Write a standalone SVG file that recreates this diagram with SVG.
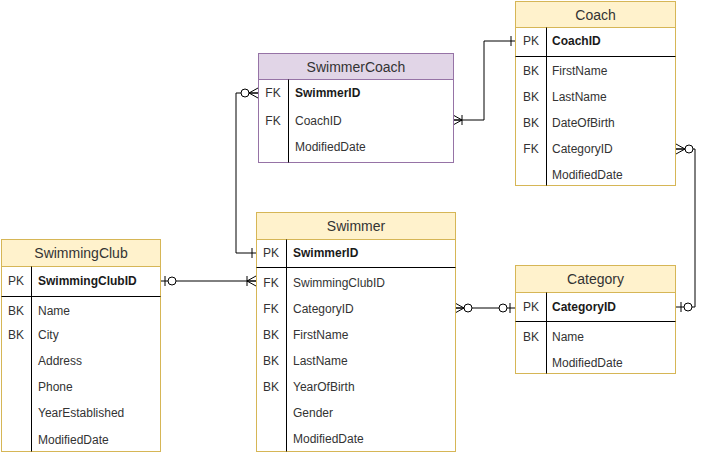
<svg xmlns="http://www.w3.org/2000/svg" width="705" height="455" viewBox="0 0 705 455">
<style>
.yb{fill:#ffffff;stroke:#d6b656;stroke-width:1}
.yh{fill:#fff2cc;stroke:#d6b656;stroke-width:1}
.pb{fill:#ffffff;stroke:#9673a6;stroke-width:1}
.ph{fill:#e1d5e7;stroke:#9673a6;stroke-width:1}
.div{stroke:#000;stroke-width:1;fill:none}
.sep{stroke:#000;stroke-width:1;fill:none}
text{font-family:"Liberation Sans",Arial,sans-serif;fill:#333333}
.t{font-size:14px;text-anchor:middle}
.f{font-size:12px}
.k{font-size:12px;text-anchor:middle}
.b{font-weight:bold;fill:#1a1a1a}
.conn{fill:none;stroke:#000;stroke-width:1}
</style>
<defs>
<marker id="zeroMany" markerUnits="userSpaceOnUse" markerWidth="30" markerHeight="30" refX="0" refY="0" viewBox="-20 -10 30 20" orient="auto-start-reverse" overflow="visible">
<path d="M-9,0 L0,-5 M-9,0 L0,5 M-9,0 L0,0" fill="none" stroke="#000" stroke-width="1"/>
<circle cx="-13" cy="0" r="4" fill="#fff" stroke="#000" stroke-width="1"/>
</marker>
<marker id="oneMany" markerUnits="userSpaceOnUse" markerWidth="30" markerHeight="30" refX="0" refY="0" viewBox="-20 -10 30 20" orient="auto-start-reverse" overflow="visible">
<path d="M-9,0 L0,-5 M-9,0 L0,5 M-9,0 L0,0 M-9,-5 L-9,5" fill="none" stroke="#000" stroke-width="1"/>
</marker>
<marker id="zeroOne" markerUnits="userSpaceOnUse" markerWidth="30" markerHeight="30" refX="0" refY="0" viewBox="-20 -10 30 20" orient="auto-start-reverse" overflow="visible">
<path d="M-5,-5 L-5,5" fill="none" stroke="#000" stroke-width="1"/>
<circle cx="-12" cy="0" r="4" fill="#fff" stroke="#000" stroke-width="1"/>
</marker>
<marker id="one" markerUnits="userSpaceOnUse" markerWidth="30" markerHeight="30" refX="0" refY="0" viewBox="-20 -10 30 20" orient="auto-start-reverse" overflow="visible">
<path d="M-4,-5 L-4,5" fill="none" stroke="#000" stroke-width="1"/>
</marker>
</defs>

<g id="connectors">
<path class="conn" d="M258,93 H236 V253 H256" marker-start="url(#zeroMany)" marker-end="url(#one)"/>
<path class="conn" d="M453,120 H484 V41 H515" marker-start="url(#oneMany)" marker-end="url(#one)"/>
<path class="conn" d="M160,281 H256" marker-start="url(#zeroOne)" marker-end="url(#oneMany)"/>
<path class="conn" d="M455,308 H515" marker-start="url(#zeroMany)" marker-end="url(#zeroOne)"/>
<path class="conn" d="M676,149 H695 V307 H676" marker-start="url(#zeroMany)" marker-end="url(#zeroOne)"/>
</g>

<g id="SwimmerCoach">
<rect class="pb" x="258.5" y="53.5" width="195" height="109"/>
<rect class="ph" x="258.5" y="53.5" width="195" height="26"/>
<text class="t" x="356" y="71.5">SwimmerCoach</text>
<line class="div" x1="288.5" y1="79.5" x2="288.5" y2="162.5"/>
<text class="k" x="273" y="97">FK</text><text class="f b" x="295" y="97">SwimmerID</text>
<text class="k" x="273" y="125">FK</text><text class="f" x="295" y="125">CoachID</text>
<text class="f" x="295" y="151">ModifiedDate</text>
</g>

<g id="Coach">
<rect class="yb" x="515.5" y="1.5" width="160" height="184"/>
<rect class="yh" x="515.5" y="1.5" width="160" height="26"/>
<text class="t" x="595.5" y="19.5">Coach</text>
<line class="div" x1="546.5" y1="27.5" x2="546.5" y2="185.5"/>
<line class="sep" x1="515.5" y1="56.5" x2="675.5" y2="56.5"/>
<text class="k" x="531" y="45">PK</text><text class="f b" x="552" y="45">CoachID</text>
<text class="k" x="531" y="75">BK</text><text class="f" x="552" y="75">FirstName</text>
<text class="k" x="531" y="101">BK</text><text class="f" x="552" y="101">LastName</text>
<text class="k" x="531" y="127">BK</text><text class="f" x="552" y="127">DateOfBirth</text>
<text class="k" x="531" y="153">FK</text><text class="f" x="552" y="153">CategoryID</text>
<text class="f" x="552" y="179">ModifiedDate</text>
</g>

<g id="SwimmingClub">
<rect class="yb" x="1.5" y="239.5" width="159" height="212"/>
<rect class="yh" x="1.5" y="239.5" width="159" height="27"/>
<text class="t" x="81" y="258">SwimmingClub</text>
<line class="div" x1="31.5" y1="266.5" x2="31.5" y2="451.5"/>
<line class="sep" x1="1.5" y1="296.5" x2="160.5" y2="296.5"/>
<text class="k" x="16" y="285">PK</text><text class="f b" x="38" y="285">SwimmingClubID</text>
<text class="k" x="16" y="315">BK</text><text class="f" x="38" y="315">Name</text>
<text class="k" x="16" y="339">BK</text><text class="f" x="38" y="339">City</text>
<text class="f" x="38" y="365">Address</text>
<text class="f" x="38" y="391">Phone</text>
<text class="f" x="38" y="417">YearEstablished</text>
<text class="f" x="38" y="444">ModifiedDate</text>
</g>

<g id="Swimmer">
<rect class="yb" x="256.5" y="212.5" width="199" height="239"/>
<rect class="yh" x="256.5" y="212.5" width="199" height="27"/>
<text class="t" x="356" y="231">Swimmer</text>
<line class="div" x1="286.5" y1="239.5" x2="286.5" y2="451.5"/>
<line class="sep" x1="256.5" y1="267.5" x2="455.5" y2="267.5"/>
<text class="k" x="271" y="257">PK</text><text class="f b" x="293" y="257">SwimmerID</text>
<text class="k" x="271" y="287">FK</text><text class="f" x="293" y="287">SwimmingClubID</text>
<text class="k" x="271" y="313">FK</text><text class="f" x="293" y="313">CategoryID</text>
<text class="k" x="271" y="339">BK</text><text class="f" x="293" y="339">FirstName</text>
<text class="k" x="271" y="365">BK</text><text class="f" x="293" y="365">LastName</text>
<text class="k" x="271" y="391">BK</text><text class="f" x="293" y="391">YearOfBirth</text>
<text class="f" x="293" y="417">Gender</text>
<text class="f" x="293" y="443">ModifiedDate</text>
</g>

<g id="Category">
<rect class="yb" x="515.5" y="265.5" width="160" height="108"/>
<rect class="yh" x="515.5" y="265.5" width="160" height="27"/>
<text class="t" x="595.5" y="284">Category</text>
<line class="div" x1="546.5" y1="292.5" x2="546.5" y2="373.5"/>
<line class="sep" x1="515.5" y1="321.5" x2="675.5" y2="321.5"/>
<text class="k" x="531" y="311">PK</text><text class="f b" x="552" y="311">CategoryID</text>
<text class="k" x="531" y="341">BK</text><text class="f" x="552" y="341">Name</text>
<text class="f" x="552" y="367">ModifiedDate</text>
</g>
</svg>
